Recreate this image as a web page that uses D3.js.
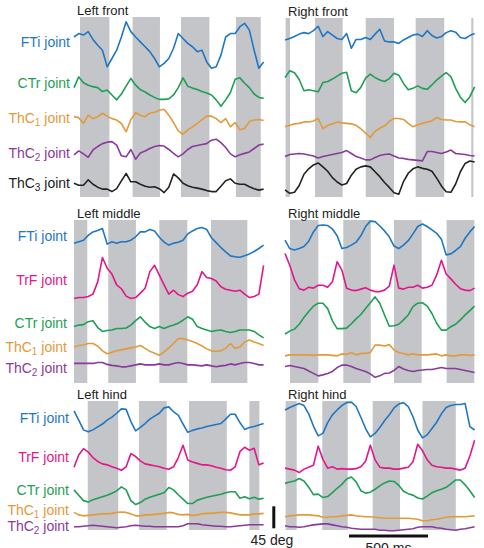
<!DOCTYPE html>
<html>
<head>
<meta charset="utf-8">
<script src="https://cdn.jsdelivr.net/npm/d3@7"></script>
<style>
  body { margin: 0; background: #fff; }
  text { font-family: "Liberation Sans", Arial, sans-serif; }
</style>
</head>
<body>
<script>
// size of the figure
var w = 484;
var h = 548;

// every trace is sampled every 30 ms, values in deg (offset per trace)
var sampleMs = 30;

// stance phases (grey bars), ms from start of each panel
var lfStance = [[38, 224], [371, 544], [677, 857], [1025, 1182]];
var rfStance = [[4, 32], [190, 365], [511, 690], [827, 1008], [1179, 1192]];
var lmStance = [[0, 84], [217, 392], [540, 717], [867, 1097]];
var rmStance = [[32, 211], [369, 543], [690, 865], [1023, 1198]];
var lhStance = [[87, 280], [411, 587], [728, 967], [1110, 1173]];
var rhStance = [[4, 74], [236, 397], [555, 728], [870, 1081]];

// Left front
var lfFTi = [71, 78, 75, 82, 66, 54, 44, 10, 27, 44, 71, 102, 82, 71, 61, 51, 41, 27, 10, 17, 27, 48, 78, 68, 58, 51, 41, 44, 20, 7, 10, 34, 71, 78, 78, 92, 99, 85, 44, 7, 20];
var lfCTr = [39, 61, 49, 44, 41, 39, 31, 34, 24, 14, 26, 42, 58, 44, 35, 30, 24, 19, 15, 15, 16, 24, 39, 59, 42, 38, 35, 31, 28, 24, 14, 1, 14, 29, 56, 59, 48, 39, 26, 19, 17];
var lfThC1 = [41, 39, 27, 44, 37, 41, 48, 42, 37, 34, 27, 10, 35, 49, 44, 41, 48, 50, 54, 56, 44, 29, 12, 5, 14, 20, 27, 35, 42, 42, 37, 29, 37, 20, 29, 14, 17, 31, 34, 35, 33];
var lfThC2 = [14, 22, 16, 9, 24, 31, 37, 40, 41, 34, 12, 10, 25, 5, 18, 22, 27, 31, 33, 32, 25, 17, 10, 16, 25, 31, 33, 35, 37, 44, 46, 39, 29, 16, 10, 14, 17, 20, 27, 34, 36];
var lfThC3 = [24, 20, 20, 31, 22, 16, 12, 12, 7, 13, 29, 44, 27, 27, 22, 18, 16, 17, 13, 5, 16, 43, 35, 24, 19, 16, 14, 12, 9, 7, 7, 18, 29, 33, 24, 22, 22, 17, 13, 10, 12];

// Right front
var rfFTi = [24, 27, 31, 36, 39, 37, 43, 52, 31, 41, 34, 27, 25, 37, 7, 25, 25, 29, 25, 36, 46, 22, 20, 20, 17, 24, 29, 34, 36, 31, 43, 33, 28, 31, 39, 43, 40, 29, 27, 33, 37];
var rfCTr = [54, 68, 64, 50, 27, 29, 27, 25, 44, 46, 51, 57, 63, 65, 27, 23, 34, 53, 61, 54, 49, 46, 52, 63, 59, 42, 29, 32, 37, 32, 30, 39, 49, 57, 64, 56, 32, 14, 3, 15, 35];
var rfThC1 = [27, 30, 33, 34, 37, 37, 39, 44, 23, 30, 33, 37, 35, 34, 33, 30, 23, 14, 5, 18, 24, 29, 38, 44, 44, 42, 34, 27, 31, 34, 37, 39, 46, 42, 41, 41, 38, 37, 37, 31, 27];
var rfThC2 = [14, 18, 19, 20, 19, 17, 15, 11, 14, 16, 18, 20, 22, 26, 20, 14, 11, 7, 7, 12, 16, 18, 19, 15, 11, 10, 8, 7, 6, 5, 24, 24, 22, 20, 23, 27, 20, 19, 18, 16, 15];
var rfThC3 = [14, 7, 9, 23, 46, 57, 65, 69, 61, 52, 39, 30, 24, 27, 44, 56, 61, 63, 61, 51, 41, 29, 19, 8, 5, 31, 48, 57, 61, 58, 56, 52, 38, 22, 10, 9, 26, 51, 68, 73, 71];

// Left middle
var lmFTi = [31, 34, 37, 47, 54, 57, 61, 29, 34, 31, 34, 34, 37, 44, 54, 54, 59, 56, 43, 33, 27, 31, 33, 37, 50, 56, 61, 63, 59, 42, 32, 22, 13, 5, 3, 2, 5, 9, 14, 20, 27];
var lmTrF = [3, 5, 5, 7, 12, 37, 87, 65, 53, 31, 23, 8, 3, 5, 14, 24, 58, 71, 51, 31, 12, 20, 11, 7, 14, 18, 31, 58, 46, 44, 39, 27, 22, 20, 18, 20, 12, 5, 7, 12, 71];
var lmCTr = [24, 27, 28, 34, 36, 22, 14, 16, 17, 20, 20, 21, 27, 36, 44, 33, 24, 20, 24, 20, 24, 27, 31, 37, 44, 39, 24, 20, 17, 14, 16, 17, 14, 12, 14, 17, 17, 17, 14, 7, 1];
var lmThC1 = [20, 23, 24, 27, 27, 22, 12, 6, 9, 12, 14, 16, 18, 20, 23, 17, 11, 7, 3, 10, 18, 27, 37, 37, 34, 31, 27, 22, 16, 12, 11, 12, 17, 27, 17, 20, 30, 34, 30, 27, 23];
var lmThC2 = [10, 10, 10, 10, 10, 12, 12, 8, 6, 5, 3, 3, 5, 7, 9, 7, 7, 7, 9, 7, 7, 10, 12, 10, 7, 7, 6, 5, 7, 5, 3, 5, 6, 9, 7, 10, 12, 12, 10, 7, 7];

// Right middle
var rmFTi = [37, 20, 17, 20, 24, 35, 54, 67, 68, 67, 60, 46, 20, 22, 27, 33, 46, 65, 76, 75, 66, 56, 44, 25, 20, 27, 36, 50, 65, 70, 65, 58, 51, 39, 7, 9, 16, 24, 41, 54, 65];
var rmTrF = [85, 61, 31, 13, 10, 16, 14, 20, 20, 16, 27, 68, 51, 14, 10, 9, 12, 15, 10, 7, 7, 10, 18, 61, 14, 12, 16, 16, 20, 14, 16, 20, 41, 71, 43, 33, 22, 13, 10, 9, 14];
var rmCTr = [2, 8, 12, 22, 36, 48, 59, 65, 65, 54, 29, 13, 13, 14, 23, 33, 42, 54, 66, 78, 65, 41, 18, 19, 22, 31, 41, 58, 65, 66, 59, 44, 24, 10, 10, 17, 22, 31, 41, 50, 59];
var rmThC1 = [5, 7, 7, 7, 7, 7, 6, 7, 7, 7, 6, 5, 9, 8, 12, 7, 10, 10, 12, 27, 27, 25, 28, 17, 12, 10, 7, 9, 7, 7, 7, 8, 9, 5, 7, 5, 5, 7, 7, 6, 7];
var rmThC2 = [24, 26, 24, 22, 20, 15, 10, 5, 7, 10, 14, 22, 27, 27, 24, 20, 17, 14, 9, 2, 5, 10, 11, 16, 24, 19, 16, 14, 16, 17, 18, 18, 20, 22, 20, 20, 20, 18, 16, 14, 12];

// Left hind
var lhFTi = [46, 27, 7, 3, 7, 13, 19, 27, 33, 41, 50, 49, 24, 5, 12, 20, 29, 35, 41, 52, 54, 44, 37, 19, 2, 6, 9, 11, 14, 16, 18, 20, 29, 39, 39, 22, 8, 12, 14, 17, 20];
var lhTrF = [9, 34, 47, 40, 29, 21, 16, 14, 10, 7, 3, 10, 37, 31, 22, 16, 14, 12, 10, 7, 5, 10, 29, 54, 24, 20, 17, 14, 14, 12, 9, 7, 4, 3, 10, 41, 50, 44, 48, 14, 18];
var lhCTr = [33, 22, 11, 8, 13, 16, 19, 22, 26, 31, 39, 33, 11, 3, 7, 14, 18, 21, 24, 27, 38, 33, 23, 14, 5, 5, 12, 15, 18, 20, 22, 24, 27, 29, 29, 16, 19, 15, 18, 14, 16];
var lhThC1 = [10, 5, 3, 4, 5, 6, 7, 7, 8, 10, 11, 10, 7, 3, 3, 5, 5, 6, 7, 8, 10, 9, 6, 5, 6, 4, 5, 7, 8, 8, 9, 10, 10, 9, 7, 5, 5, 5, 7, 7, 8];
var lhThC2 = [4, 4, 5, 6, 7, 6, 5, 4, 3, 2, 3, 4, 6, 7, 6, 5, 5, 4, 4, 4, 4, 4, 4, 6, 10, 10, 10, 8, 7, 6, 5, 5, 4, 4, 5, 6, 7, 8, 8, 8, 8];

// Right hind
var rhFTi = [58, 63, 67, 71, 67, 50, 25, 5, 10, 32, 48, 58, 67, 73, 74, 65, 43, 20, 3, 10, 22, 36, 48, 62, 70, 73, 65, 44, 17, 1, 7, 20, 33, 50, 63, 67, 69, 69, 71, 24, 17];
var rhTrF = [14, 12, 10, 5, 12, 16, 20, 59, 32, 14, 17, 12, 13, 12, 12, 13, 17, 28, 61, 31, 16, 14, 14, 12, 12, 14, 16, 27, 63, 50, 31, 20, 17, 16, 14, 14, 12, 10, 14, 39, 71];
var rhCTr = [34, 37, 39, 44, 39, 26, 11, 12, 5, 7, 15, 24, 32, 43, 47, 37, 19, 14, 16, 22, 29, 35, 39, 38, 30, 18, 13, 10, 4, 2, 8, 15, 19, 22, 26, 33, 41, 41, 31, 19, 5];
var rhThC1 = [10, 12, 13, 14, 14, 14, 13, 12, 9, 9, 10, 10, 12, 13, 14, 12, 11, 10, 10, 9, 8, 7, 7, 7, 7, 7, 7, 6, 5, 2, 2, 4, 5, 7, 9, 10, 10, 10, 10, 11, 12];
var rhThC2 = [12, 10, 10, 9, 10, 12, 14, 15, 16, 16, 14, 12, 10, 9, 7, 6, 5, 5, 5, 5, 3, 3, 2, 2, 3, 4, 5, 6, 9, 10, 10, 10, 8, 7, 5, 4, 3, 5, 6, 8, 10];

// colours of the joints
var colors = {
    FTi: "#1f77c4",
    CTr: "#1f9e55",
    ThC1: "#e39a3b",
    ThC2: "#8a3a9c",
    ThC3: "#222222",
    TrF: "#e3168a"
};

// where each panel sits, and the baseline (px) of every trace
var panels = [
    { title: "Left front", x0: 74, top: 17, bottom: 197, stance: lfStance, labelX: 70,
      traces: [["FTi", lfFTi, 71.7, 42], ["CTr", lfCTr, 106.7, 83], ["ThC1", lfThC1, 136.7, 118],
               ["ThC2", lfThC2, 161.7, 153], ["ThC3", lfThC3, 195, 183]] },
    { title: "Right front", x0: 285, top: 18, bottom: 197, stance: rfStance,
      traces: [["FTi", rfFTi, 51.7], ["CTr", rfCTr, 104], ["ThC1", rfThC1, 140],
               ["ThC2", rfThC2, 163.3], ["ThC3", rfThC3, 196.7]] },
    { title: "Left middle", x0: 74, top: 220, bottom: 383, stance: lmStance, labelX: 67,
      traces: [["FTi", lmFTi, 258.3, 236], ["TrF", lmTrF, 300, 280], ["CTr", lmCTr, 338.3, 323],
               ["ThC1", lmThC1, 356.7, 347], ["ThC2", lmThC2, 368.3, 368]] },
    { title: "Right middle", x0: 285, top: 220, bottom: 383, stance: rmStance,
      traces: [["FTi", rmFTi, 258.3], ["TrF", rmTrF, 295], ["CTr", rmCTr, 335],
               ["ThC1", rmThC1, 358.3], ["ThC2", rmThC2, 378.3]] },
    { title: "Left hind", x0: 74, top: 401, bottom: 530, stance: lhStance, labelX: 69,
      traces: [["FTi", lhFTi, 433.3, 418], ["TrF", lhTrF, 471.7, 457], ["CTr", lhCTr, 506, 490],
               ["ThC1", lhThC1, 517.3, 510], ["ThC2", lhThC2, 528.7, 526]] },
    { title: "Right hind", x0: 285, top: 401, bottom: 530, stance: rhStance,
      traces: [["FTi", rhFTi, 438.3], ["TrF", rhTrF, 475], ["CTr", rhCTr, 500],
               ["ThC1", rhThC1, 521.7], ["ThC2", rhThC2, 531.7]] }
];

var svg = d3.select("body").append("svg")
    .attr("width", w)
    .attr("height", h);

// 45 deg = 22 px, same in every panel
var degPx = d3.scaleLinear().domain([0, 45]).range([0, 22]);

panels.forEach(function (p) {
    var x = d3.scaleLinear().domain([0, 1200]).range([p.x0, p.x0 + 189.6]);
    p.x = x;
    var g = svg.append("g");

    // grey stance bars
    g.selectAll("rect").data(p.stance).enter().append("rect")
        .attr("x", function (d) { return x(d[0]); })
        .attr("width", function (d) { return x(d[1]) - x(d[0]); })
        .attr("y", p.top)
        .attr("height", p.bottom - p.top)
        .attr("fill", "#c3c5c8");

    g.append("text")
        .attr("x", p.x0 + 3)
        .attr("y", p.top - 2)
        .attr("font-size", 13)
        .attr("fill", "#222")
        .text(p.title);

    p.traces.forEach(function (t) {
        var base = t[2];
        var line = d3.line()
            .x(function (d, i) { return x(i * sampleMs); })
            .y(function (d) { return base - degPx(d); });
        g.append("path")
            .attr("d", line(t[1]))
            .attr("fill", "none")
            .attr("stroke", colors[t[0]])
            .attr("stroke-width", 1.6)
            .attr("stroke-linejoin", "round");

        // joint names only on the left column
        if (p.labelX) {
            var lab = g.append("text")
                .attr("x", p.labelX)
                .attr("y", t[3])
                .attr("dy", "0.35em")
                .attr("text-anchor", "end")
                .attr("font-size", 14)
                .attr("fill", colors[t[0]]);
            if (t[0].indexOf("ThC") === 0) {
                lab.append("tspan").text("ThC");
                lab.append("tspan").attr("font-size", 10).attr("dy", 3).text(t[0].slice(3));
                lab.append("tspan").attr("dy", -3).text(" joint");
            } else {
                lab.text(t[0] + " joint");
            }
        }
    });
});

// scale bars
var xr = panels[5].x;
svg.append("line")
    .attr("x1", xr(405)).attr("x2", xr(905))
    .attr("y1", 536).attr("y2", 536)
    .attr("stroke", "#111").attr("stroke-width", 3);
svg.append("text")
    .attr("x", xr(655)).attr("y", 553)
    .attr("text-anchor", "middle").attr("font-size", 14).attr("fill", "#222")
    .text("500 ms");

svg.append("line")
    .attr("x1", 273.8).attr("x2", 273.8)
    .attr("y1", 528.3).attr("y2", 528.3 - degPx(45))
    .attr("stroke", "#111").attr("stroke-width", 3);
svg.append("text")
    .attr("x", 272).attr("y", 545)
    .attr("text-anchor", "middle").attr("font-size", 14).attr("fill", "#222")
    .text("45 deg");
</script>
</body>
</html>
